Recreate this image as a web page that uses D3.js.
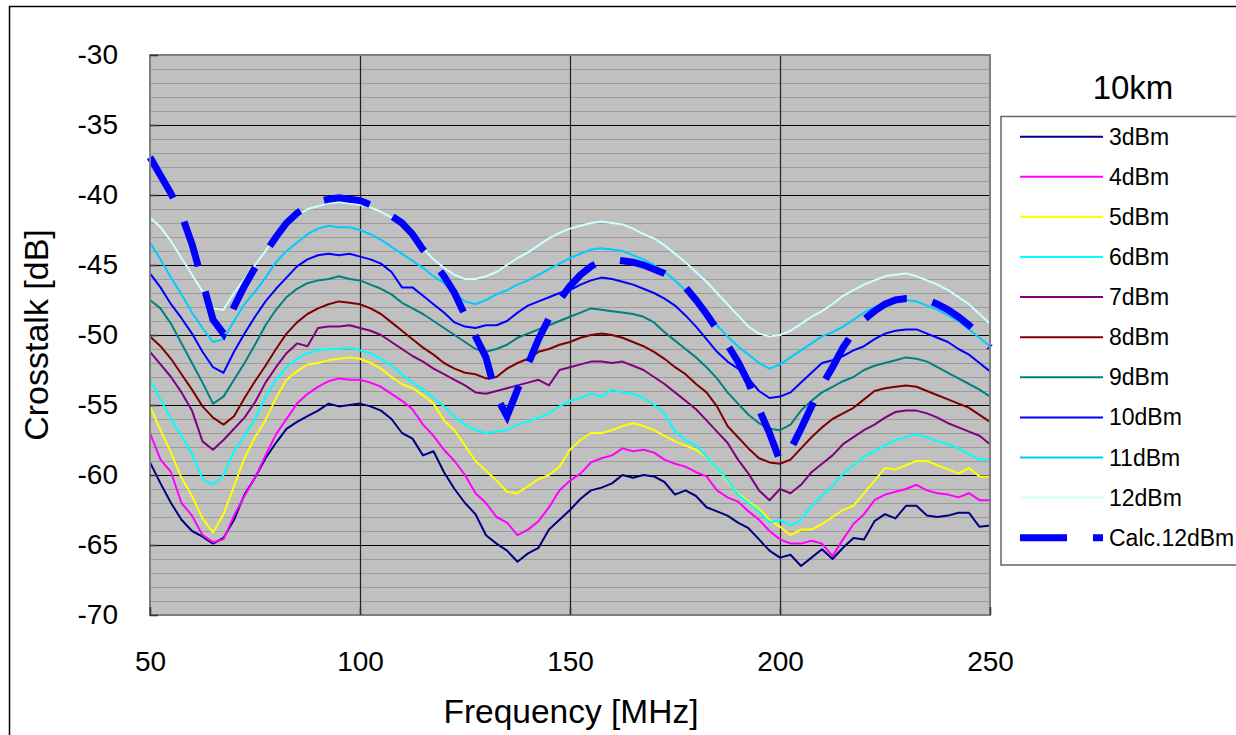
<!DOCTYPE html>
<html>
<head>
<meta charset="utf-8">
<script src="https://cdnjs.cloudflare.com/ajax/libs/d3/7.8.5/d3.min.js"></script>
<style>
  html, body { margin: 0; padding: 0; background: #ffffff; }
  svg { display: block; font-family: "Liberation Sans", Arial, sans-serif; }
</style>
</head>
<body>
<div class="chart"></div>
<script>
// Frequency points (MHz) shared by every series
var freq = [50, 52.5, 55, 57.5, 60, 62.5, 65, 67.5, 70, 72.5, 75, 77.5, 80, 82.5, 85, 87.5, 90, 92.5, 95, 97.5,
  100, 102.5, 105, 107.5, 110, 112.5, 115, 117.5, 120, 122.5, 125, 127.5, 130, 132.5, 135, 137.5, 140, 142.5, 145, 147.5,
  150, 152.5, 155, 157.5, 160, 162.5, 165, 167.5, 170, 172.5, 175, 177.5, 180, 182.5, 185, 187.5, 190, 192.5, 195, 197.5,
  200, 202.5, 205, 207.5, 210, 212.5, 215, 217.5, 220, 222.5, 225, 227.5, 230, 232.5, 235, 237.5, 240, 242.5, 245, 247.5, 250];

// Crosstalk [dB] per launch power
var dBm3 = [-59.1, -60.6, -62.0, -63.2, -64.0, -64.4, -64.9, -64.5, -63.2, -61.4, -60.2, -58.8, -57.7, -56.7, -56.2, -55.8, -55.4, -54.9, -55.1, -55.0,
  -54.9, -55.1, -55.4, -56.0, -57.0, -57.4, -58.6, -58.3, -59.8, -61.0, -62.0, -62.8, -64.3, -64.9, -65.4, -66.2, -65.6, -65.2, -63.9, -63.2,
  -62.5, -61.7, -61.1, -60.9, -60.6, -60.0, -60.2, -60.0, -60.1, -60.5, -61.4, -61.1, -61.5, -62.3, -62.6, -62.9, -63.4, -63.8, -64.6, -65.4,
  -65.9, -65.7, -66.5, -65.9, -65.3, -66.0, -65.2, -64.5, -64.6, -63.3, -62.8, -63.1, -62.2, -62.2, -62.9, -63.0, -62.9, -62.7, -62.7, -63.7, -63.6];
var dBm4 = [-57.0, -58.9, -59.8, -62.0, -62.9, -64.3, -64.8, -64.6, -62.9, -61.5, -60.2, -58.6, -57.1, -56.0, -54.9, -54.2, -53.7, -53.3, -53.1, -53.2,
  -53.2, -53.4, -53.7, -54.2, -54.7, -55.3, -56.4, -57.2, -58.2, -59.0, -60.0, -61.3, -62.0, -63.0, -63.4, -64.3, -63.9, -63.3, -62.3, -61.1,
  -60.4, -59.9, -59.1, -58.8, -58.6, -58.1, -58.3, -58.2, -58.4, -58.9, -59.2, -59.4, -59.8, -60.1, -61.1, -61.6, -61.9, -62.6, -63.2, -64.0,
  -64.6, -64.9, -64.9, -64.7, -64.9, -65.8, -64.6, -63.5, -62.8, -61.8, -61.4, -61.2, -61.0, -60.7, -61.1, -61.3, -61.4, -61.6, -61.3, -61.8, -61.8];
var dBm5 = [-55.1, -56.8, -58.4, -60.2, -61.5, -63.1, -64.1, -62.8, -60.8, -58.8, -57.3, -56.1, -54.5, -53.2, -52.6, -52.1, -52.0, -51.8, -51.7, -51.6,
  -51.7, -52.0, -52.4, -53.0, -53.5, -53.8, -54.3, -54.9, -56.1, -56.8, -57.9, -59.0, -59.7, -60.4, -61.2, -61.3, -60.8, -60.3, -60.0, -59.4,
  -58.2, -57.5, -57.0, -57.0, -56.8, -56.5, -56.3, -56.5, -56.8, -57.2, -57.6, -57.9, -58.2, -58.7, -59.5, -60.4, -61.3, -61.9, -62.4, -63.2,
  -63.7, -64.3, -63.9, -63.9, -63.5, -63.0, -62.5, -62.2, -61.3, -60.4, -59.5, -59.6, -59.3, -59.0, -59.0, -59.3, -59.6, -59.9, -59.5, -60.1, -60.1];
var dBm6 = [-53.2, -54.6, -56.0, -57.2, -58.5, -60.3, -60.7, -60.0, -58.3, -57.2, -56.0, -54.4, -53.2, -52.3, -51.7, -51.3, -51.1, -51.0, -51.0, -50.9,
  -51.1, -51.3, -51.7, -52.2, -52.8, -53.4, -53.9, -54.5, -55.1, -55.8, -56.4, -56.8, -57.0, -56.9, -56.8, -56.4, -56.2, -55.9, -55.6, -55.1,
  -54.7, -54.5, -54.2, -54.4, -53.9, -54.1, -54.2, -54.5, -55.0, -55.6, -56.9, -57.5, -57.9, -58.7, -59.5, -60.3, -61.4, -62.0, -62.6, -63.4,
  -63.2, -63.6, -63.2, -62.2, -61.5, -60.8, -59.9, -59.3, -58.7, -58.3, -57.9, -57.5, -57.3, -57.1, -57.3, -57.6, -57.8, -58.1, -58.5, -58.9, -58.9];
var dBm7 = [-51.2, -52.1, -53.0, -54.1, -55.4, -57.6, -58.2, -57.5, -56.7, -55.9, -54.8, -53.4, -52.3, -51.3, -50.6, -50.8, -49.5, -49.4, -49.4, -49.3,
  -49.5, -49.7, -50.0, -50.5, -51.0, -51.5, -51.9, -52.4, -52.8, -53.2, -53.6, -54.1, -54.2, -54.0, -53.8, -53.6, -53.4, -53.2, -53.6, -52.5,
  -52.3, -52.1, -51.9, -51.9, -52.0, -51.9, -52.2, -52.5, -53.0, -53.5, -54.1, -54.7, -55.3, -56.1, -56.9, -57.7, -58.9, -59.9, -61.1, -61.8,
  -61.0, -61.3, -60.7, -59.8, -59.2, -58.6, -57.8, -57.3, -56.8, -56.4, -55.9, -55.5, -55.4, -55.4, -55.6, -55.9, -56.3, -56.6, -56.9, -57.2, -57.8];
var dBm8 = [-50.1, -50.8, -51.7, -52.8, -53.9, -55.1, -55.9, -56.4, -55.8, -54.5, -53.3, -52.2, -51.0, -49.9, -49.1, -48.5, -48.1, -47.8, -47.6, -47.7,
  -47.8, -48.1, -48.5, -49.1, -49.7, -50.3, -50.9, -51.4, -52.0, -52.4, -52.7, -52.8, -53.1, -53.0, -52.4, -52.0, -51.7, -51.2, -51.0, -50.7,
  -50.5, -50.2, -50.0, -49.9, -50.0, -50.2, -50.5, -50.8, -51.2, -51.7, -52.3, -52.8, -53.5, -54.1, -55.1, -56.5, -57.3, -58.1, -58.8, -59.1,
  -59.2, -58.9, -58.1, -57.3, -56.6, -56.0, -55.6, -55.2, -54.6, -54.0, -53.8, -53.7, -53.6, -53.7, -54.0, -54.3, -54.6, -54.9, -55.2, -55.7, -56.2];
var dBm9 = [-47.5, -48.1, -49.2, -50.6, -52.0, -53.4, -54.9, -54.4, -53.2, -52.0, -50.7, -49.3, -48.2, -47.3, -46.7, -46.3, -46.1, -46.0, -45.8, -46.0,
  -46.1, -46.4, -46.7, -47.1, -47.7, -48.1, -48.5, -49.0, -49.5, -50.0, -50.5, -51.0, -51.2, -51.0, -50.7, -50.2, -49.9, -49.6, -49.3, -49.0,
  -48.7, -48.4, -48.1, -48.2, -48.3, -48.4, -48.5, -48.7, -49.1, -49.8, -50.4, -51.0, -51.6, -52.3, -53.1, -54.1, -54.9, -55.7, -56.3, -56.7,
  -56.8, -56.4, -55.4, -54.7, -54.1, -53.7, -53.3, -53.0, -52.5, -52.2, -52.0, -51.8, -51.6, -51.7, -51.9, -52.3, -52.7, -53.1, -53.5, -53.9, -54.4];
var dBm10 = [-45.6, -46.6, -47.8, -48.8, -49.9, -51.2, -52.3, -52.7, -51.2, -49.9, -48.7, -47.6, -46.7, -45.9, -45.1, -44.6, -44.3, -44.2, -44.3, -44.2,
  -44.4, -44.6, -44.9, -45.5, -46.6, -46.6, -47.2, -47.8, -48.4, -49.1, -49.4, -49.5, -49.3, -49.3, -49.0, -48.4, -47.9, -47.6, -47.3, -47.0,
  -46.8, -46.4, -46.1, -45.9, -46.0, -46.2, -46.4, -46.7, -47.0, -47.4, -47.9, -48.6, -49.4, -50.3, -51.2, -51.9, -52.4, -53.1, -54.0, -54.5,
  -54.4, -54.1, -53.4, -52.7, -52.0, -51.8, -51.5, -51.1, -50.8, -50.3, -49.9, -49.7, -49.6, -49.6, -49.9, -50.2, -50.5, -51.0, -51.4, -52.0, -52.6];
var dBm11 = [-43.4, -44.6, -45.9, -47.1, -48.4, -49.5, -50.5, -50.3, -49.0, -47.8, -46.9, -45.9, -44.8, -44.0, -43.4, -42.8, -42.4, -42.2, -42.3, -42.3,
  -42.5, -42.8, -43.2, -43.7, -44.2, -44.7, -45.2, -45.8, -46.3, -47.0, -47.6, -47.8, -47.5, -47.1, -46.8, -46.4, -46.1, -45.7, -45.3, -44.9,
  -44.5, -44.2, -43.9, -43.8, -43.9, -44.0, -44.3, -44.6, -45.0, -45.5, -46.1, -46.8, -47.5, -48.4, -49.3, -50.1, -50.8, -51.4, -52.0, -52.4,
  -52.1, -51.6, -51.1, -50.6, -50.1, -49.8, -49.4, -48.9, -48.4, -48.0, -47.8, -47.6, -47.5, -47.6, -47.9, -48.2, -48.6, -49.0, -49.6, -50.2, -50.8];
var dBm12 = [-41.6, -42.3, -43.3, -44.5, -45.7, -46.9, -48.1, -48.2, -47.0, -46.0, -45.0, -44.0, -42.9, -42.1, -41.5, -41.0, -40.8, -40.6, -40.5, -40.6,
  -40.7, -40.9, -41.2, -41.6, -42.2, -42.9, -43.8, -44.6, -45.2, -45.7, -46.0, -46.0, -45.8, -45.5, -45.0, -44.5, -44.1, -43.6, -43.1, -42.7,
  -42.4, -42.2, -42.0, -41.9, -42.0, -42.1, -42.4, -42.8, -43.1, -43.6, -44.2, -44.8, -45.5, -46.2, -47.0, -47.8, -48.6, -49.4, -49.9, -50.1,
  -50.0, -49.7, -49.2, -48.7, -48.3, -47.8, -47.2, -46.8, -46.4, -46.1, -45.8, -45.7, -45.6, -45.8, -46.1, -46.4, -46.8, -47.3, -47.8, -48.5, -49.2];
var calc12 = [-37.3, -38.6, -39.9, -41.4, -43.5, -46.2, -48.9, -49.9, -48.0, -46.5, -45.2, -44.1, -43.0, -42.0, -41.3, -40.8, -40.5, -40.3, -40.2, -40.3,
  -40.4, -40.7, -41.1, -41.5, -42.0, -42.8, -43.9, -44.8, -45.8, -47.0, -48.6, -50.1, -51.6, -54.4, -55.8, -53.9, -52.1, -50.3, -48.8, -47.5,
  -46.5, -45.7, -45.1, -44.7, -44.6, -44.7, -44.8, -45.0, -45.3, -45.6, -46.0, -46.6, -47.5, -48.5, -49.6, -50.7, -51.9, -53.4, -55.3, -57.0,
  -59.0, -58.2, -56.7, -55.1, -53.6, -52.3, -50.9, -49.8, -48.9, -48.3, -47.8, -47.5, -47.4, -47.4, -47.5, -47.8, -48.2, -48.7, -49.3, -50.0, -50.9];

var seriesNames = ["3dBm", "4dBm", "5dBm", "6dBm", "7dBm", "8dBm", "9dBm", "10dBm", "11dBm", "12dBm", "Calc.12dBm"];
var seriesValues = [dBm3, dBm4, dBm5, dBm6, dBm7, dBm8, dBm9, dBm10, dBm11, dBm12, calc12];
var seriesColors = ["#000080", "#ff00ff", "#ffff00", "#00ffff", "#800080", "#800000", "#008080", "#0000ff", "#00ccff", "#ccffff", "#0000ff"];

var xTicks = [50, 100, 150, 200, 250];
var yTicks = [-70, -65, -60, -55, -50, -45, -40, -35, -30];

function init() {
  var w = 1236;
  var h = 735;
  // plot area edges
  var left = 150, top = 55, right = 990, bottom = 615;

  var svg = d3.select(".chart")
    .append("svg")
    .attr("width", w)
    .attr("height", h);

  // outer chart border
  svg.append("rect")
    .attr("x", 9.5)
    .attr("y", 6.5)
    .attr("width", 1300)
    .attr("height", 800)
    .attr("fill", "#ffffff")
    .attr("stroke", "#000000")
    .attr("stroke-width", 1.5);

  var xScale = d3.scaleLinear().domain([50, 250]).range([left, right]);
  var yScale = d3.scaleLinear().domain([-70, -30]).range([bottom, top]);

  // plot background
  svg.append("rect")
    .attr("x", left)
    .attr("y", top)
    .attr("width", right - left)
    .attr("height", bottom - top)
    .attr("fill", "#c0c0c0");

  // minor grid, every 1 dB
  var minor = d3.range(-69, -30).filter(function (d) { return d % 5 !== 0; });
  svg.append("g")
    .attr("class", "minor")
    .attr("transform", "translate(" + left + ",0)")
    .call(d3.axisLeft(yScale).tickValues(minor).tickSize(-(right - left)).tickFormat(""))
    .call(function (g) { g.select(".domain").remove(); })
    .selectAll("line")
    .attr("stroke", "#9c9c9c")
    .attr("stroke-width", 1.2);

  // major grid, every 5 dB
  svg.append("g")
    .attr("transform", "translate(" + left + ",0)")
    .call(d3.axisLeft(yScale).tickValues(yTicks.slice(1, -1)).tickSize(-(right - left)).tickFormat(""))
    .call(function (g) { g.select(".domain").remove(); })
    .selectAll("line")
    .attr("stroke", "#000000")
    .attr("stroke-width", 1.2);

  // vertical grid
  svg.append("g")
    .attr("transform", "translate(0," + bottom + ")")
    .call(d3.axisBottom(xScale).tickValues(xTicks.slice(1, -1)).tickSize(-(bottom - top)).tickFormat(""))
    .call(function (g) { g.select(".domain").remove(); })
    .selectAll("line")
    .attr("stroke", "#222222")
    .attr("stroke-width", 1.2);

  // series lines
  var line = d3.line()
    .x(function (d, i) { return xScale(freq[i]); })
    .y(function (d) { return yScale(d); });

  seriesValues.forEach(function (vals, k) {
    var isCalc = k === seriesValues.length - 1;
    svg.append("path")
      .datum(vals)
      .attr("fill", "none")
      .attr("stroke", seriesColors[k])
      .attr("stroke-width", isCalc ? 7 : 2)
      .attr("stroke-linejoin", isCalc ? "miter" : "round")
      .attr("stroke-dasharray", isCalc ? "47,26" : null)
      .attr("d", line);
  });

  // plot area border
  svg.append("rect")
    .attr("x", left)
    .attr("y", top)
    .attr("width", right - left)
    .attr("height", bottom - top)
    .attr("fill", "none")
    .attr("stroke", "#7f7f7f")
    .attr("stroke-width", 2);

  // y axis: labels (plain hyphen) and inside ticks
  var yAxis = svg.append("g")
    .attr("transform", "translate(" + left + ",0)")
    .call(d3.axisLeft(yScale).tickValues(yTicks).tickSize(-8).tickPadding(40)
      .tickFormat(function (d) { return String(d); }));
  yAxis.select(".domain").remove();
  yAxis.selectAll("line").attr("stroke", "#333333").attr("stroke-width", 1.5);
  yAxis.selectAll("text")
    .attr("x", -32)
    .style("font-size", "28px")
    .style("font-family", "Liberation Sans, Arial, sans-serif")
    .attr("fill", "#000000");

  // x axis: labels and inside ticks
  var xAxis = svg.append("g")
    .attr("transform", "translate(0," + bottom + ")")
    .call(d3.axisBottom(xScale).tickValues(xTicks).tickSize(-8).tickPadding(0));
  xAxis.select(".domain").remove();
  xAxis.selectAll("line").attr("stroke", "#333333").attr("stroke-width", 1.5);
  xAxis.selectAll("text")
    .attr("y", 56)
    .attr("dy", null)
    .style("font-size", "28px")
    .style("font-family", "Liberation Sans, Arial, sans-serif")
    .attr("fill", "#000000");

  // axis titles
  svg.append("text")
    .attr("x", 571)
    .attr("y", 723)
    .attr("text-anchor", "middle")
    .style("font-size", "33.5px")
    .text("Frequency [MHz]");
  svg.append("text")
    .attr("transform", "rotate(-90)")
    .attr("x", -335)
    .attr("y", 48)
    .attr("text-anchor", "middle")
    .style("font-size", "34px")
    .text("Crosstalk [dB]");

  // legend title
  svg.append("text")
    .attr("x", 1133)
    .attr("y", 99)
    .attr("text-anchor", "middle")
    .style("font-size", "33px")
    .text("10km");

  // legend
  var legend = svg.append("g");
  legend.append("rect")
    .attr("x", 1001)
    .attr("y", 116.5)
    .attr("width", 300)
    .attr("height", 448.5)
    .attr("fill", "#ffffff")
    .attr("stroke", "#666666")
    .attr("stroke-width", 1.5);

  seriesNames.forEach(function (name, k) {
    var isCalc = k === seriesNames.length - 1;
    var y = 136.7 + k * 40.1;
    legend.append("line")
      .attr("x1", 1020)
      .attr("x2", 1103)
      .attr("y1", y)
      .attr("y2", y)
      .attr("stroke", seriesColors[k])
      .attr("stroke-width", isCalc ? 7 : 2)
      .attr("stroke-dasharray", isCalc ? "47,26" : null);
    legend.append("text")
      .attr("x", 1109)
      .attr("y", y + 8)
      .style("font-size", "23px")
      .text(name);
  });
}
window.onload = init;
</script>
</body>
</html>
